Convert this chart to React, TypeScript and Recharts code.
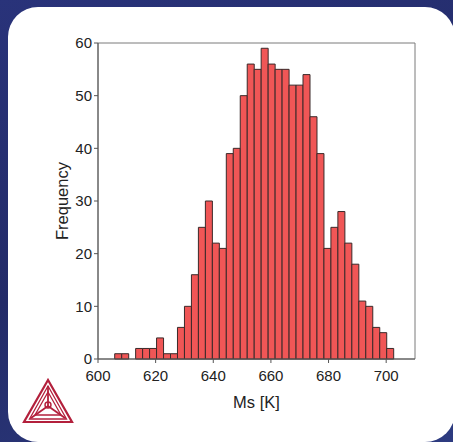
import React from "react";
import {
  BarChart,
  Bar,
  XAxis,
  YAxis,
  ReferenceArea,
  Label,
} from "recharts";

// Histogram of martensite start temperature (Ms), 40 bins
const BIN_START = 605.8;
const BIN_WIDTH = 2.42;
const counts = [
  1, 1, 0, 2, 2, 2, 4, 1, 1, 6, 10, 16, 25, 30, 22, 21, 39, 40, 50, 56,
  55, 59, 56, 55, 55, 52, 52, 54, 46, 39, 21, 25, 28, 22, 18, 11, 10, 6, 5, 2,
];
const xTicks = [600, 620, 640, 660, 680, 700];
const yTicks = [0, 10, 20, 30, 40, 50, 60];

const data = counts.map((count, i) => ({
  ms: BIN_START + BIN_WIDTH * (i + 0.5),
  count,
}));

const FONT = "Arial, 'Liberation Sans', Helvetica, sans-serif";
const LOGO_RED = "#b3203c";

function Logo() {
  return (
    <svg
      width={52}
      height={48}
      viewBox="0 0 52 48"
      style={{ position: "absolute", left: 22, top: 378 }}
    >
      <g fill="none" stroke={LOGO_RED} strokeLinejoin="miter">
        <polygon points="26,2 2,44 50,44" strokeWidth={2.2} />
        <polygon points="26,8 7.5,41 44.5,41" strokeWidth={1.3} />
        <polygon points="26,14 13,37 39,37" strokeWidth={1.3} />
        <line x1={26} y1={8} x2={26} y2={28} strokeWidth={1.8} />
        <line x1={26} y1={28} x2={9} y2={40} strokeWidth={1.8} />
        <line x1={26} y1={28} x2={43} y2={40} strokeWidth={1.8} />
        <circle cx={26} cy={27} r={3} strokeWidth={1.4} />
      </g>
    </svg>
  );
}

export default function App() {
  return (
    <div
      style={{
        position: "fixed",
        left: 0,
        top: 0,
        width: 453,
        height: 442,
        overflow: "hidden",
        background: "linear-gradient(160deg, #29337a 0%, #232b68 50%, #2d3b80 100%)",
      }}
    >
      <div
        style={{
          position: "absolute",
          left: 8,
          top: 7,
          width: 447,
          height: 435,
          borderRadius: 30,
          background: "#ffffff",
        }}
      />
      <div style={{ position: "absolute", left: 0, top: 0 }}>
        <BarChart
          width={453}
          height={442}
          data={data}
          margin={{ top: 43, right: 38, left: 38, bottom: 33 }}
          barCategoryGap={0}
          barGap={0}
        >
          <XAxis
            dataKey="ms"
            type="number"
            domain={[600, 710]}
            ticks={xTicks}
            allowDataOverflow
            height={50}
            tickSize={4}
            tickMargin={7}
            stroke="#555"
            tick={{ fill: "#222", fontSize: 15, fontFamily: FONT }}
          >
            <Label
              value="Ms [K]"
              position="insideBottom"
              offset={1}
              style={{ fill: "#222", fontSize: 16.5, fontFamily: FONT }}
            />
          </XAxis>
          <YAxis
            type="number"
            domain={[0, 60]}
            ticks={yTicks}
            width={60}
            tickSize={4}
            tickMargin={2}
            stroke="#555"
            tick={{ fill: "#222", fontSize: 15, fontFamily: FONT }}
          >
            <Label
              value="Frequency"
              angle={-90}
              position="insideLeft"
              offset={24}
              style={{
                fill: "#222",
                fontSize: 16.5,
                fontFamily: FONT,
                textAnchor: "middle",
              }}
            />
          </YAxis>
          {/* plot frame */}
          <ReferenceArea
            x1={600}
            x2={710}
            y1={0}
            y2={60}
            fill="none"
            stroke="#7a7a7a"
            strokeWidth={1}
            ifOverflow="visible"
          />
          <Bar
            dataKey="count"
            fill="#f05656"
            stroke="#3a2a2a"
            strokeWidth={1}
            isAnimationActive={false}
          />
        </BarChart>
      </div>
      <Logo />
    </div>
  );
}
